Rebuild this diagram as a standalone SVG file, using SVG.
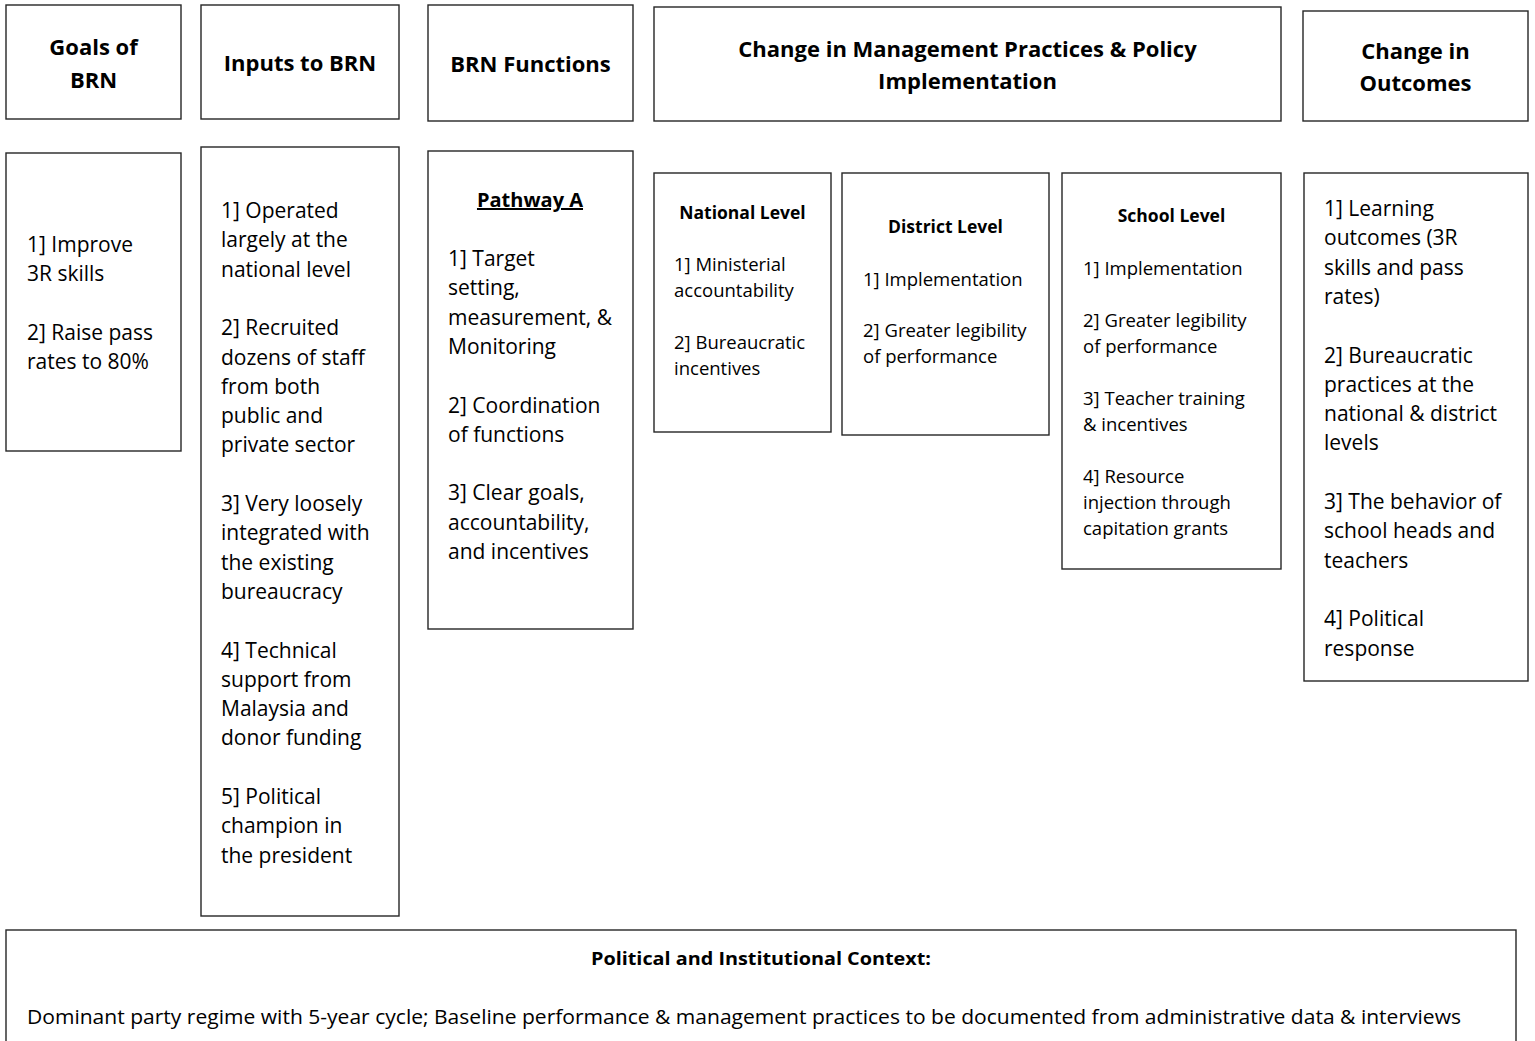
<svg xmlns="http://www.w3.org/2000/svg" width="1535" height="1041" viewBox="0 0 1535 1041">
<style>
rect.box{fill:#fff;stroke:#262626;stroke-width:1.4}
text{font-family:"Open Sans","Liberation Sans",sans-serif;fill:#000}
.h{font-size:22px;font-weight:bold;text-anchor:middle}
.b{font-size:21px}
.lt{font-size:17.5px;font-weight:bold;text-anchor:middle}
.lb{font-size:18.5px}
.pw{font-size:20px;font-weight:bold;text-anchor:middle;text-decoration:underline}
</style>
<rect width="1535" height="1041" fill="#fff"/>
<g id="connectors"></g>

<g id="hdr-goals"><rect class="box" x="6" y="5" width="175" height="114"/>
<text class="h" x="93.5" y="55">Goals of</text><text class="h" x="93.5" y="88">BRN</text></g>
<g id="hdr-inputs"><rect class="box" x="201" y="5" width="198" height="114"/>
<text class="h" x="300" y="71">Inputs to BRN</text></g>
<g id="hdr-functions"><rect class="box" x="428" y="5" width="205" height="116"/>
<text class="h" x="530.5" y="72">BRN Functions</text></g>
<g id="hdr-change"><rect class="box" x="654" y="7" width="627" height="114"/>
<text class="h" x="967.5" y="57">Change in Management Practices &amp; Policy</text><text class="h" x="967.5" y="89">Implementation</text></g>
<g id="hdr-outcomes"><rect class="box" x="1303" y="11" width="225" height="110"/>
<text class="h" x="1415.5" y="59">Change in</text><text class="h" x="1415.5" y="91">Outcomes</text></g>

<g id="goals"><rect class="box" x="6" y="153" width="175" height="298"/>
<text class="b" x="27" y="252">1] Improve</text>
<text class="b" x="27" y="281.3">3R skills</text>
<text class="b" x="27" y="339.9">2] Raise pass</text>
<text class="b" x="27" y="369.2">rates to 80%</text></g>

<g id="inputs"><rect class="box" x="201" y="147" width="198" height="769"/>
<text class="b" x="221" y="218">1] Operated</text>
<text class="b" x="221" y="247.3">largely at the</text>
<text class="b" x="221" y="276.6">national level</text>
<text class="b" x="221" y="335.2">2] Recruited</text>
<text class="b" x="221" y="364.5">dozens of staff</text>
<text class="b" x="221" y="393.8">from both</text>
<text class="b" x="221" y="423.1">public and</text>
<text class="b" x="221" y="452.4">private sector</text>
<text class="b" x="221" y="511">3] Very loosely</text>
<text class="b" x="221" y="540.3">integrated with</text>
<text class="b" x="221" y="569.6">the existing</text>
<text class="b" x="221" y="598.9">bureaucracy</text>
<text class="b" x="221" y="657.5">4] Technical</text>
<text class="b" x="221" y="686.8">support from</text>
<text class="b" x="221" y="716.1">Malaysia and</text>
<text class="b" x="221" y="745.4">donor funding</text>
<text class="b" x="221" y="804">5] Political</text>
<text class="b" x="221" y="833.3">champion in</text>
<text class="b" x="221" y="862.6">the president</text></g>

<g id="functions"><rect class="box" x="428" y="151" width="205" height="478"/>
<text class="pw" x="530" y="207">Pathway A</text>
<text class="b" x="448" y="266">1] Target</text>
<text class="b" x="448" y="295.3">setting,</text>
<text class="b" x="448" y="324.6">measurement, &amp;</text>
<text class="b" x="448" y="353.9">Monitoring</text>
<text class="b" x="448" y="412.5">2] Coordination</text>
<text class="b" x="448" y="441.8">of functions</text>
<text class="b" x="448" y="500.4">3] Clear goals,</text>
<text class="b" x="448" y="529.7">accountability,</text>
<text class="b" x="448" y="559">and incentives</text></g>

<g id="national"><rect class="box" x="654" y="173" width="177" height="259"/>
<text class="lt" x="742.5" y="219">National Level</text>
<text class="lb" x="674" y="271">1] Ministerial</text>
<text class="lb" x="674" y="297">accountability</text>
<text class="lb" x="674" y="349">2] Bureaucratic</text>
<text class="lb" x="674" y="375">incentives</text></g>

<g id="district"><rect class="box" x="842" y="173" width="207" height="262"/>
<text class="lt" x="945.5" y="233">District Level</text>
<text class="lb" x="863" y="286">1] Implementation</text>
<text class="lb" x="863" y="337">2] Greater legibility</text>
<text class="lb" x="863" y="363">of performance</text></g>

<g id="school"><rect class="box" x="1062" y="173" width="219" height="396"/>
<text class="lt" x="1171.5" y="222">School Level</text>
<text class="lb" x="1083" y="275">1] Implementation</text>
<text class="lb" x="1083" y="327">2] Greater legibility</text>
<text class="lb" x="1083" y="353">of performance</text>
<text class="lb" x="1083" y="405">3] Teacher training</text>
<text class="lb" x="1083" y="431">&amp; incentives</text>
<text class="lb" x="1083" y="483">4] Resource</text>
<text class="lb" x="1083" y="509">injection through</text>
<text class="lb" x="1083" y="535">capitation grants</text></g>

<g id="outcomes"><rect class="box" x="1304" y="173" width="224" height="508"/>
<text class="b" x="1324" y="216">1] Learning</text>
<text class="b" x="1324" y="245.3">outcomes (3R</text>
<text class="b" x="1324" y="274.6">skills and pass</text>
<text class="b" x="1324" y="303.9">rates)</text>
<text class="b" x="1324" y="362.5">2] Bureaucratic</text>
<text class="b" x="1324" y="391.8">practices at the</text>
<text class="b" x="1324" y="421.1">national &amp; district</text>
<text class="b" x="1324" y="450.4">levels</text>
<text class="b" x="1324" y="509">3] The behavior of</text>
<text class="b" x="1324" y="538.3">school heads and</text>
<text class="b" x="1324" y="567.6">teachers</text>
<text class="b" x="1324" y="626.2">4] Political</text>
<text class="b" x="1324" y="655.5">response</text></g>

<g id="context"><rect class="box" x="6" y="930" width="1510" height="130"/>
<text x="761" y="965" font-size="18.5px" font-weight="bold" text-anchor="middle" textLength="340" lengthAdjust="spacingAndGlyphs">Political and Institutional Context:</text>
<text x="27" y="1024" font-size="20px" textLength="1434" lengthAdjust="spacingAndGlyphs">Dominant party regime with 5-year cycle; Baseline performance &amp; management practices to be documented from administrative data &amp; interviews</text></g>
</svg>
